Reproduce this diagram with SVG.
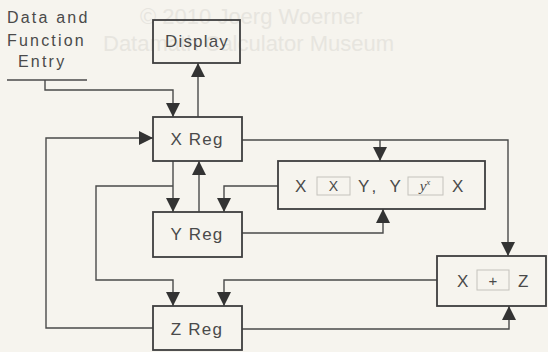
<svg xmlns="http://www.w3.org/2000/svg" width="548" height="352" viewBox="0 0 548 352">
<style>
.bg{fill:#f6f4ee}
.box{fill:none;stroke:#3e3e3e;stroke-width:1.8}
.key{fill:none;stroke:#c4c2bc;stroke-width:1}
.ln{fill:none;stroke:#4a4a4a;stroke-width:1.4}
.t{font-family:"Liberation Sans",Arial,sans-serif;font-size:17px;fill:#4a4a4a;letter-spacing:1.2px}
.lbl{font-family:"Liberation Sans",Arial,sans-serif;font-size:16px;fill:#4a4a4a;letter-spacing:2.2px}
.wm{font-family:"Liberation Sans",Arial,sans-serif;font-size:22px;fill:#e7e5df}
</style>
<defs>
<marker id="ah" markerUnits="userSpaceOnUse" markerWidth="14" markerHeight="14" refX="14" refY="7" orient="auto">
<path d="M0,0 L14,7 L0,14 z" fill="#333"/>
</marker>
</defs>
<rect class="bg" x="0" y="0" width="548" height="352"/>
<g id="watermark">
<text class="wm" x="140" y="24">© 2010 Joerg Woerner</text>
<text class="wm" x="103" y="51">Datamath Calculator Museum</text>
</g>
<g id="connectors">
<line class="ln" x1="7" y1="80" x2="87" y2="80"/>
<path class="ln" d="M45,80 V90 H173 V117" marker-end="url(#ah)"/>
<path class="ln" d="M198,117 V63" marker-end="url(#ah)"/>
<path class="ln" d="M153,328 H46 V138 H153" marker-end="url(#ah)"/>
<path class="ln" d="M173,161 V212" marker-end="url(#ah)"/>
<path class="ln" d="M199,212 V161" marker-end="url(#ah)"/>
<path class="ln" d="M173,186 H96 V280 H173 V306" marker-end="url(#ah)"/>
<path class="ln" d="M278,186 H224 V212" marker-end="url(#ah)"/>
<path class="ln" d="M242,140 H508 V256" marker-end="url(#ah)"/>
<path class="ln" d="M380,140 V161" marker-end="url(#ah)"/>
<path class="ln" d="M242,233 H383 V209" marker-end="url(#ah)"/>
<path class="ln" d="M437,280 H224 V306" marker-end="url(#ah)"/>
<path class="ln" d="M242,329 H509 V306" marker-end="url(#ah)"/>
</g>
<g id="entry">
<text class="lbl" x="7" y="23">Data and</text>
<text class="lbl" x="7" y="46">Function</text>
<text class="lbl" x="18" y="67">Entry</text>
</g>
<g id="display">
<rect class="box" x="153" y="20" width="87" height="43"/>
<text class="t" x="197" y="47" text-anchor="middle">Display</text>
</g>
<g id="xreg">
<rect class="box" x="153" y="117" width="89" height="44"/>
<text class="t" x="197" y="145" text-anchor="middle">X Reg</text>
</g>
<g id="yreg">
<rect class="box" x="153" y="212" width="89" height="45"/>
<text class="t" x="197" y="240" text-anchor="middle">Y Reg</text>
</g>
<g id="zreg">
<rect class="box" x="153" y="306" width="89" height="44"/>
<text class="t" x="197" y="335" text-anchor="middle">Z Reg</text>
</g>
<g id="multiply">
<rect class="box" x="278" y="161" width="207" height="48"/>
<text class="t" x="295" y="192">X</text>
<rect class="key" x="317" y="177" width="33" height="18"/>
<text class="t" x="333.5" y="191" text-anchor="middle" style="font-size:14px;letter-spacing:0">X</text>
<text class="t" x="358" y="192" textLength="44">Y, Y</text>
<rect class="key" x="408" y="177" width="35" height="18"/>
<text x="425" y="191" text-anchor="middle" style="font-family:'Liberation Serif',serif;font-style:italic;font-size:15px;fill:#4a4a4a">y<tspan dy="-6" style="font-size:9px">x</tspan></text>
<text class="t" x="452" y="192">X</text>
</g>
<g id="plus">
<rect class="box" x="437" y="256" width="109" height="50"/>
<text class="t" x="457" y="287">X</text>
<rect class="key" x="477" y="270" width="32" height="20"/>
<text class="t" x="493" y="286" text-anchor="middle" style="font-size:15px;letter-spacing:0">+</text>
<text class="t" x="518" y="287">Z</text>
</g>
</svg>
